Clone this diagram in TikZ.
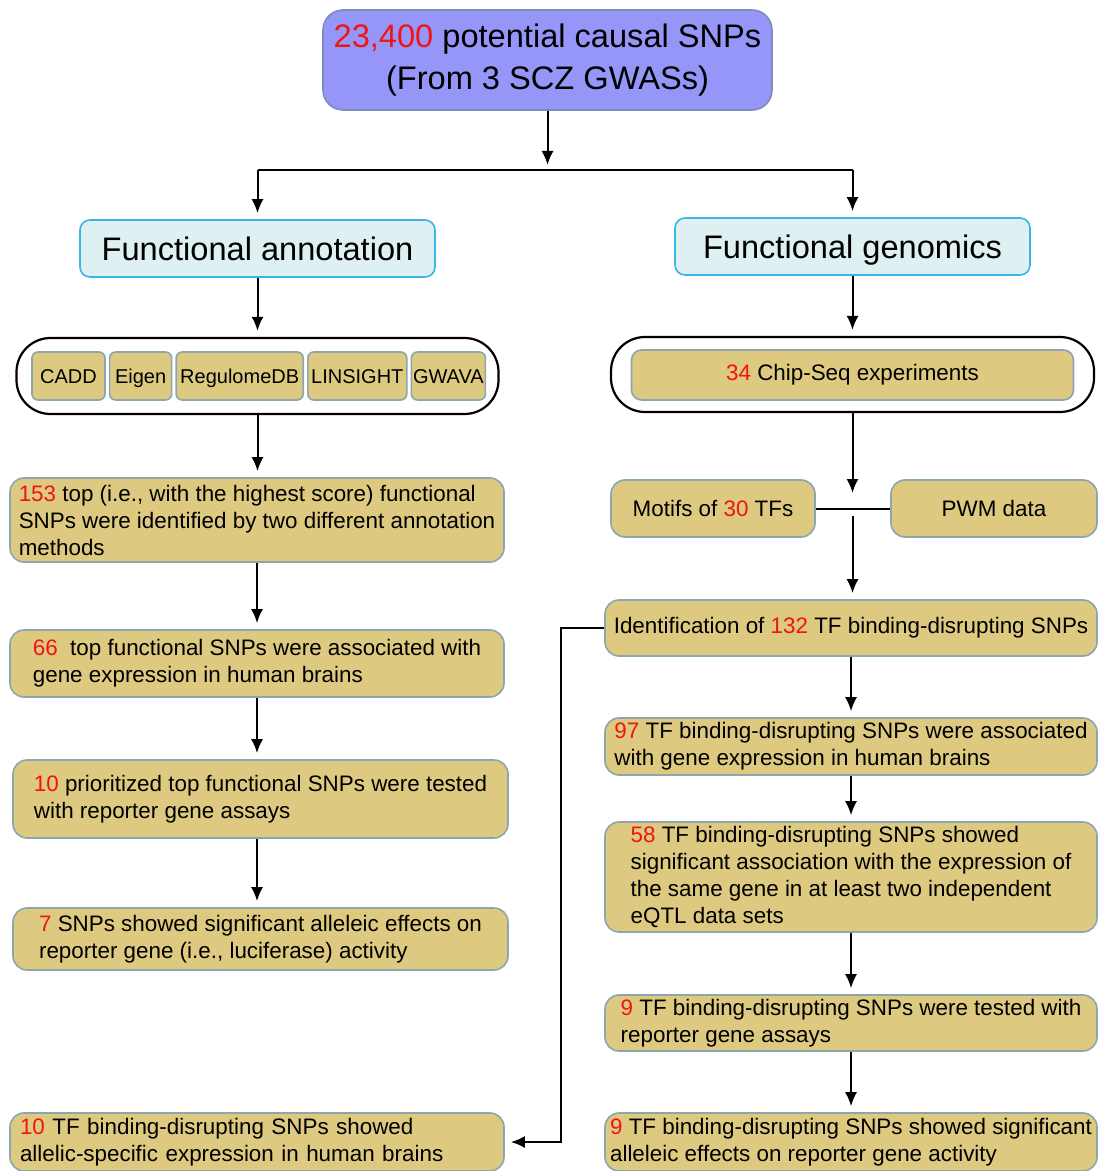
\documentclass[tikz,border=0pt]{standalone}
\usepackage{fontspec}
\setmainfont{Liberation Sans}
\usepackage{xcolor}
\usetikzlibrary{arrows.meta,positioning}
\definecolor{tanfill}{RGB}{222,201,128}
\definecolor{tanedge}{RGB}{140,166,176}
\definecolor{lavfill}{RGB}{150,150,248}
\definecolor{lavedge}{RGB}{125,140,190}
\definecolor{cyanfill}{RGB}{222,240,242}
\definecolor{cyanedge}{RGB}{60,180,230}
\definecolor{numred}{RGB}{240,20,20}
\newcommand{\num}[1]{\textcolor{numred}{#1}}

\begin{document}
\begin{tikzpicture}[
  x=0.5pt, y=-0.5pt,
  font=\fontsize{11.2}{13.5}\selectfont,
  box/.style={draw, rounded corners=7pt, align=left, inner sep=2pt, line width=0.8pt},
  card/.style={box, fill=tanfill, draw=tanedge, minimum width=247pt},
  tool/.style={box, fill=tanfill, draw=tanedge, rounded corners=3pt, inner sep=0pt,
               minimum height=24pt, text height=9pt, text depth=2pt,
               font=\fontsize{10}{12}\selectfont},
  head/.style={box, fill=cyanfill, draw=cyanedge, rounded corners=5pt, minimum width=177.5pt,
               minimum height=28.5pt, text height=15.5pt, text depth=3.5pt,
               font=\fontsize{16.3}{20}\selectfont},
  ring/.style={draw, line width=1.1pt, rounded corners=17pt},
  arr/.style={-{Latex[length=7pt,width=6pt]}, line width=1pt, shorten >=3pt},
  link/.style={line width=1pt}
]
\useasboundingbox (0,0) rectangle (1097,1171);
% source
\node[box, fill=lavfill, draw=lavedge, align=center, minimum width=224.5pt, minimum height=50pt,
      rounded corners=10pt, font=\fontsize{16.3}{21}\selectfont] (snps) at (547.5,60)
  {\num{23,400} potential causal SNPs\\(From 3 SCZ GWASs)};
% two branches
\node[head] (annot) at (257.5,248.5) {Functional annotation};
\node[head] (genom) at (852.5,246.5) {Functional genomics};
% annotation tools
\node[ring, minimum width=241pt, minimum height=38pt] (toolring) at (257.5,376) {};
\node[tool, minimum width=36.5pt] (cadd) at (68.5,376) {CADD};
\node[tool, minimum width=31pt, right=1.5pt of cadd] (eigen) {Eigen};
\node[tool, minimum width=63.5pt, right=1.5pt of eigen] (regdb) {RegulomeDB};
\node[tool, minimum width=49.5pt, right=1.5pt of regdb] (linsight) {LINSIGHT};
\node[tool, minimum width=37pt, right=1.5pt of linsight] (gwava) {GWAVA};
% chip-seq
\node[ring, minimum width=241.5pt, minimum height=37.5pt] (chipring) at (852.5,374.5) {};
\node[box, fill=tanfill, draw=tanedge, align=center, minimum width=221pt, minimum height=25pt,
      rounded corners=5pt] (chip) at (852.5,375) {\num{34} Chip-Seq experiments};
% left column
\node[card, minimum height=42pt] (top153) at (257,520)
  {\num{153} top (i.e., with the highest score) functional\\SNPs were identified by two different annotation\\methods};
\node[card, minimum height=33.5pt] (eqtl66) at (257,663.5)
  {\num{66}~ top functional SNPs were associated with\\gene expression in human brains};
\node[card, minimum width=247.5pt, minimum height=39pt] (assay10) at (260.5,799)
  {\num{10} prioritized top functional SNPs were tested\\with reporter gene assays};
\node[card, minimum width=247.5pt, minimum height=31pt] (allelic7) at (260.5,939)
  {\num{7} SNPs showed significant alleleic effects on\\reporter gene (i.e., luciferase) activity};
\node[card, minimum height=29pt, text width=237pt, inner xsep=5pt] (ase10) at (257,1142)
  {\num{10} TF binding-disrupting SNPs showed\\allelic-specific expression in human brains};
% right column
\node[card, minimum width=102pt, minimum height=28.5pt, align=center] (motifs) at (713,508.5)
  {Motifs of \num{30} TFs};
\node[card, minimum width=103pt, minimum height=28.5pt, align=center] (pwm) at (994,508.5)
  {PWM data};
\node[card, minimum width=246pt, minimum height=28pt] (ident) at (851,628)
  {Identification of \num{132} TF binding-disrupting SNPs};
\node[card, minimum width=246pt, minimum height=28.5pt] (eqtl97) at (851,746.5)
  {\num{97} TF binding-disrupting SNPs were associated\\with gene expression in human brains};
\node[card, minimum width=246pt, minimum height=55pt] (coloc58) at (851,877)
  {\num{58} TF binding-disrupting SNPs showed\\significant association with the expression of\\the same gene in at least two independent\\eQTL data sets};
\node[card, minimum width=246pt, minimum height=28pt] (assay9) at (851,1023)
  {\num{9} TF binding-disrupting SNPs were tested with\\reporter gene assays};
\node[card, minimum width=246pt, minimum height=29pt, inner xsep=1pt] (allelic9) at (851,1142)
  {\num{9} TF binding-disrupting SNPs showed significant\\alleleic effects on reporter gene activity};
% junction points
\coordinate (fork) at (547.5,171);
\coordinate (forkL) at (257.5,170);
\coordinate (forkR) at (852.5,170);
\coordinate (mergeIn) at (852.5,499);
\coordinate (mergeOut) at (852.5,516);
\coordinate (bend) at (561,1142);
% arrows
\draw[arr] (snps) -- (fork);
\draw[link] (forkL) -- (forkR);
\draw[arr] (forkL) -- (annot);
\draw[arr] (forkR) -- (genom);
\draw[arr] (annot) -- (toolring);
\draw[arr] (toolring.south) -- (toolring.south |- top153.north);
\draw[arr] (top153.south) -- (top153.south |- eqtl66.north);
\draw[arr] (eqtl66.south) -- (eqtl66.south |- assay10.north);
\draw[arr] (eqtl66.south |- assay10.south) -- (eqtl66.south |- allelic7.north);
\draw[arr] (genom) -- (chipring);
\draw[arr] (chipring) -- (mergeIn);
\draw[link] (motifs) -- (pwm);
\draw[arr] (mergeOut) -- (mergeOut |- ident.north);
\draw[arr] (ident.south) -- (ident.south |- eqtl97.north);
\draw[arr] (eqtl97.south) -- (eqtl97.south |- coloc58.north);
\draw[arr] (coloc58.south) -- (coloc58.south |- assay9.north);
\draw[arr] (assay9.south) -- (assay9.south |- allelic9.north);
\draw[arr] (ident.west) -| (bend) -- (ase10.east);
\end{tikzpicture}
\end{document}
